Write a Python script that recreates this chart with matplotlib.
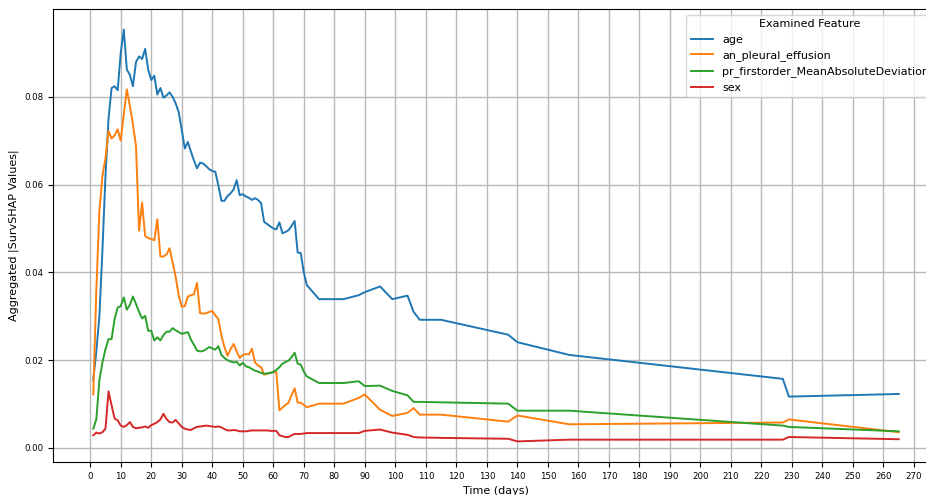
import numpy as np
import matplotlib
matplotlib.use("Agg")
import matplotlib.pyplot as plt

# time grid (days) shared by all features
days = list(range(1, 72)) + [75, 83, 88, 90, 95, 99, 104, 106, 108, 115,
                             137, 140, 157, 227, 229, 265]

age = [0.0155, 0.022, 0.030, 0.045, 0.062, 0.075, 0.082, 0.0824, 0.0815, 0.090,
       0.0953, 0.0862, 0.085, 0.0824, 0.0879, 0.0892, 0.0886, 0.0909, 0.0862, 0.0838,
       0.0848, 0.0805, 0.082, 0.0798, 0.0803, 0.081, 0.080, 0.0785, 0.0765, 0.0725,
       0.0682, 0.0697, 0.0675, 0.0655, 0.0637, 0.0650, 0.0648, 0.0642, 0.0635, 0.0631,
       0.0629, 0.0598, 0.0563, 0.0563, 0.0574, 0.058, 0.0589, 0.061, 0.0576, 0.0578,
       0.0573, 0.0570, 0.0565, 0.0569, 0.0565, 0.0558, 0.0515, 0.051, 0.0505, 0.0500,
       0.0498, 0.0514, 0.0489, 0.0492, 0.0496, 0.0506, 0.0517, 0.0445, 0.0444, 0.040,
       0.0371,
       0.0339, 0.0339, 0.0348, 0.0355, 0.0368, 0.0339, 0.0347, 0.031, 0.0292, 0.0292,
       0.0258, 0.0241, 0.0212, 0.01575, 0.0117, 0.0123]

pleural_effusion = [0.0122, 0.036, 0.054, 0.062, 0.066, 0.0722, 0.0705, 0.0712, 0.0726, 0.070,
                    0.076, 0.0817, 0.0779, 0.0737, 0.0688, 0.0495, 0.0559, 0.0483, 0.0478, 0.0476,
                    0.0473, 0.0521, 0.0436, 0.0436, 0.0441, 0.0455, 0.0423, 0.039, 0.0347, 0.0322,
                    0.0323, 0.0345, 0.0348, 0.035, 0.0376, 0.0307, 0.0306, 0.0307, 0.0310, 0.0312,
                    0.0302, 0.0294, 0.0256, 0.023, 0.021, 0.0225, 0.0237, 0.022, 0.0205, 0.0212,
                    0.0214, 0.0213, 0.0226, 0.0195, 0.0188, 0.0184, 0.0167, 0.0169, 0.0171, 0.0173,
                    0.0173, 0.0086, 0.0092, 0.0098, 0.0103, 0.012, 0.0136, 0.0103, 0.0103, 0.0098,
                    0.0093,
                    0.0101, 0.0101, 0.0114, 0.0122, 0.0087, 0.0073, 0.008, 0.0091, 0.0076, 0.0076,
                    0.006, 0.0074, 0.0054, 0.0058, 0.0065, 0.0036]

mean_abs_dev = [0.0044, 0.0065, 0.0154, 0.0195, 0.0225, 0.0248, 0.0248, 0.0294, 0.032, 0.0323,
                0.0343, 0.0315, 0.0326, 0.0345, 0.0328, 0.031, 0.0295, 0.0301, 0.0267, 0.0267,
                0.0245, 0.0252, 0.0245, 0.0257, 0.0265, 0.0265, 0.0273, 0.0268, 0.0264, 0.026,
                0.0262, 0.0264, 0.0247, 0.0235, 0.0222, 0.022, 0.0221, 0.0225, 0.023, 0.0227,
                0.0224, 0.0232, 0.0212, 0.0205, 0.0200, 0.0197, 0.0195, 0.0196, 0.0188, 0.0194,
                0.0186, 0.0184, 0.018, 0.0176, 0.0174, 0.0171, 0.0169, 0.0170, 0.0171, 0.0173,
                0.0178, 0.0184, 0.0192, 0.0196, 0.0199, 0.0207, 0.0217, 0.0192, 0.019, 0.0174,
                0.0163,
                0.0148, 0.0148, 0.0152, 0.0141, 0.0142, 0.013, 0.012, 0.0105, 0.0105, 0.0104,
                0.0101, 0.0085, 0.0085, 0.0051, 0.0048, 0.0038]

sex = [0.0029, 0.0035, 0.0033, 0.0036, 0.0044, 0.0129, 0.0097, 0.0067, 0.0063, 0.0051,
       0.0048, 0.0052, 0.0059, 0.0048, 0.0045, 0.0046, 0.0047, 0.0049, 0.0046, 0.0052,
       0.0055, 0.0059, 0.0065, 0.0078, 0.0066, 0.0059, 0.0058, 0.0064, 0.0056, 0.0048,
       0.0044, 0.0042, 0.0041, 0.0045, 0.0048, 0.0049, 0.005, 0.0051, 0.005, 0.0049,
       0.0048, 0.0049, 0.0047, 0.0043, 0.004, 0.004, 0.0041, 0.004, 0.0038, 0.0038,
       0.0038, 0.0039, 0.004, 0.004, 0.004, 0.004, 0.004, 0.004, 0.0039, 0.0039,
       0.0039, 0.0029, 0.0027, 0.0025, 0.0025, 0.0029, 0.0032, 0.0032, 0.0032, 0.0033,
       0.0034,
       0.0034, 0.0034, 0.0034, 0.0039, 0.0042, 0.0035, 0.003, 0.0025, 0.0024, 0.0023,
       0.0021, 0.0015, 0.0019, 0.0019, 0.0025, 0.002]

features = ["age", "an_pleural_effusion", "pr_firstorder_MeanAbsoluteDeviation", "sex"]
series = [age, pleural_effusion, mean_abs_dev, sex]

fig = plt.figure(figsize=(9.26, 4.95), dpi=100)
# axes runs past the right edge of the canvas
ax = fig.add_axes([53 / 926, 33 / 495, 886 / 926, 453 / 495])

for name, vals in zip(features, series):
    ax.plot(days, vals, label=name, linewidth=1.4)

ax.set_xticks(np.arange(0, 271, 10))
ax.tick_params(labelsize=6.2)
ax.set_xlabel("Time (days)", fontsize=8)
ax.set_ylabel("Aggregated |SurvSHAP Values|", fontsize=8)
ax.grid(True, color="#b8b8b8", linewidth=1.0)
ax.legend(title="Examined Feature", loc="upper right", fontsize=8, title_fontsize=8)

fig.savefig("out.png", dpi=100)
